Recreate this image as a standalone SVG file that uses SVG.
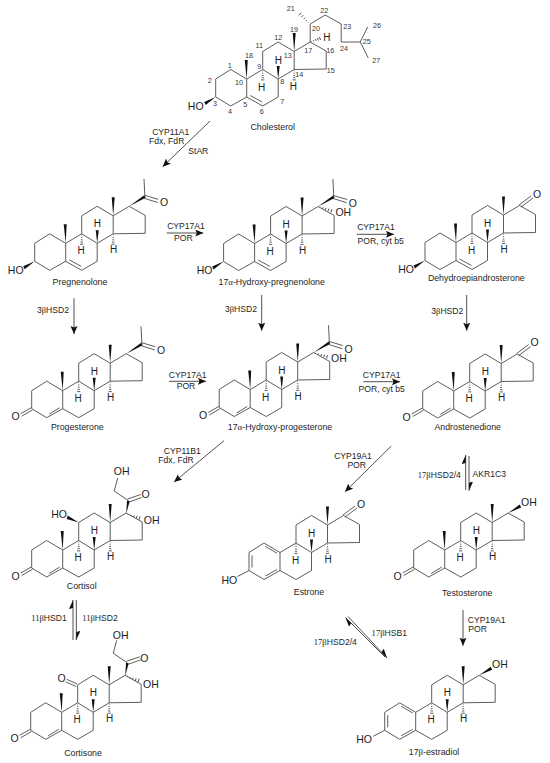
<svg xmlns="http://www.w3.org/2000/svg" width="550" height="763" viewBox="0 0 550 763">
<style>
text{font-family:"Liberation Sans",Arial,sans-serif;fill:#1c1c1c;text-anchor:middle;opacity:.99}
.b{fill:none;stroke:#333;stroke-width:.8}
.w{fill:#111;stroke:none}
.a{font-size:10.5px}
.h{font-size:10px}
.n{font-size:8.8px}
.e{font-size:8.6px}
.k{font-size:7.2px;fill:#333}
.s{font-family:"Liberation Serif","DejaVu Serif",serif}
.c{fill:none;stroke:#222;stroke-width:.8}
</style>
<defs>
<marker id="ah" markerUnits="userSpaceOnUse" markerWidth="10" markerHeight="8" refX="8" refY="3.5" orient="auto"><path d="M0 0L8 3.5L0 7L1.5 3.5Z" fill="#111"/></marker>
<marker id="hp" markerUnits="userSpaceOnUse" markerWidth="10" markerHeight="8" refX="9" refY="4" orient="auto"><path d="M0 0L9 4L1 4Z" fill="#111"/></marker>
<g id="hash"><path class="b" d="M1.5-.3V.3M3.7-.6V.6M6-.9V.9M8.2-1.2V1.2M10.4-1.6V1.6"/></g>
<g id="hashl"><path class="b" d="M2-.3V.3M5-.7V.7M8-1V1M11-1.4V1.4M14-1.8V1.8"/></g>
<g id="sk">
<path class="b" d="M0 0L-16-9.5L-31 0V18L-16 27L0 18ZM0 18L16 27L31.5 18V0L16-9.5L0 0M16-9.5V-27.5L31.5-37L47.5-27.5V-9.5L31.5 0M47.5-27.5L63.5-37L79.5-28V-10L47.5-9.5"/>
<path class="w" d="M47.5-27.5L46-46H49ZM31.5 0L30-13H33Z"/>
<use href="#hash" transform="translate(16,-9.5) rotate(90)"/>
<use href="#hash" transform="translate(47.5,-9.5) rotate(90)"/>
</g>
<path id="m18" class="w" d="M0 0L-2-19H1Z"/>
<path id="d56" class="b" d="M3.5 16.5L15.5 23"/>
<path id="d45" class="b" d="M-13.5 23.5L-3 17"/>
<path id="o3" class="b" d="M-31.5 17L-42 23M-30.3 19.3L-41 25.5"/>
<g id="ac">
<path class="w" d="M63.5-37L78.5-48L80-45.5Z"/>
<path class="b" d="M79.2-46.6L78.3-64.3M79-48L92.5-44M78.5-45L92-40.8"/>
</g>
<g id="ar"><path class="b" d="M-28 3V15M-14.5-6L-3 .7M-14.5 23.5L-3 17M-31 18L-42.5 24"/></g>
<g id="co"><path class="b" d="M63-37.5L75-46.5M65-35.5L77-44.5"/></g>
<g id="sc">
<path class="w" d="M63.5-36L64.3-49.6L67-49Z"/>
<path class="b" d="M65.6-49.5L51.5-59L55-72M65-51L78-55.5M66.5-48L79-52.5"/>
<use href="#hashl" transform="translate(63.5,-36) rotate(17)"/>
</g>
</defs>

<g id="connectors">
<path class="c" marker-end="url(#ah)" d="M210 121L162.7 166.7"/>
<path class="c" marker-end="url(#ah)" d="M166.7 233H203.3"/>
<path class="c" marker-end="url(#ah)" d="M356.7 234.3H394"/>
<path class="c" marker-end="url(#ah)" d="M169 381.3H206"/>
<path class="c" marker-end="url(#ah)" d="M363.3 381.7H400"/>
<path class="c" marker-end="url(#ah)" d="M74 298.3V334"/>
<path class="c" marker-end="url(#ah)" d="M261.7 295V330.7"/>
<path class="c" marker-end="url(#ah)" d="M466.7 295V330.7"/>
<path class="c" marker-end="url(#ah)" d="M224 440.7L174 482"/>
<path class="c" marker-end="url(#ah)" d="M391.3 446L345 491.7"/>
<path class="c" marker-end="url(#ah)" d="M463 610V645.7"/>
<path class="c" marker-end="url(#hp)" d="M465.7 490V455"/>
<path class="c" marker-end="url(#hp)" d="M469 456V490.7"/>
<path class="c" marker-end="url(#hp)" d="M73 640V600"/>
<path class="c" marker-end="url(#hp)" d="M76.3 600V640"/>
<path class="c" marker-end="url(#hp)" d="M385 657L345.5 617.5"/>
<path class="c" marker-end="url(#hp)" d="M348 616.5L387 658"/>
</g>

<g id="labels">
<text class="e" x="170.7" y="135">CYP11A1</text>
<text class="e" x="166.7" y="144.4">Fdx, FdR</text>
<text class="e" x="198.3" y="153.5">StAR</text>
<text class="e" x="186" y="228.5">CYP17A1</text>
<text class="e" x="183.3" y="241.2">POR</text>
<text class="e" x="376" y="230.2">CYP17A1</text>
<text class="e" x="380.7" y="243.5">POR, cyt b5</text>
<text class="e" x="187.7" y="377.9">CYP17A1</text>
<text class="e" x="186" y="389.2">POR</text>
<text class="e" x="381.7" y="378.2">CYP17A1</text>
<text class="e" x="381.7" y="391.5">POR, cyt b5</text>
<text class="e" x="53" y="313.2">3<tspan class="s">β</tspan>HSD2</text>
<text class="e" x="241" y="311.5">3<tspan class="s">β</tspan>HSD2</text>
<text class="e" x="447.3" y="313.5">3<tspan class="s">β</tspan>HSD2</text>
<text class="e" x="182.3" y="454">CYP11B1</text>
<text class="e" x="176" y="463.4">Fdx, FdR</text>
<text class="e" x="353" y="458.5">CYP19A1</text>
<text class="e" x="356.7" y="468.4">POR</text>
<text class="e" x="439.3" y="478.2"><tspan class="s">17β</tspan>HSD2/4</text>
<text class="e" x="489.3" y="477.2">AKR1C3</text>
<text class="e" x="49" y="620.5"><tspan class="s">11β</tspan>HSD1</text>
<text class="e" x="100" y="620.5"><tspan class="s">11β</tspan>HSD2</text>
<text class="e" x="389.3" y="635.5"><tspan class="s">17β</tspan>HSB1</text>
<text class="e" x="335.3" y="644.5"><tspan class="s">17β</tspan>HSD2/4</text>
<text class="e" x="467.7" y="622.5" style="text-anchor:start">CYP19A1</text>
<text class="e" x="468.3" y="632.2" style="text-anchor:start">POR</text>
</g>

<g id="cholesterol">
<g transform="translate(246.7,79)">
<use href="#sk"/><use href="#m18"/><use href="#d56"/>
<path class="w" d="M-31 18L-42.5 23L-41 26Z"/>
<path class="b" d="M63.5-37V-55L78.5-64M78.5-64L94.5-55V-37H113.5M113.5-37L121-52M113.5-37L121.6-21"/>
<use href="#hashl" transform="translate(63.3,-55) rotate(-135)"/>
<use href="#hash" transform="translate(63.5,-37) rotate(-20)"/>
<text class="h" x="31.6" y="-15.5">H</text><text class="h" x="15" y="12">H</text><text class="h" x="46.6" y="10.5">H</text>
<text class="h" x="80.3" y="-38">H</text>
<text class="a" x="-51" y="31">HO</text>
</g>
<g>
<text class="k" x="229.7" y="68.4">1</text><text class="k" x="209.7" y="82.7">2</text><text class="k" x="215" y="106">3</text><text class="k" x="230" y="114.4">4</text><text class="k" x="245.3" y="107.4">5</text><text class="k" x="261.7" y="113.7">6</text><text class="k" x="282.3" y="104.4">7</text><text class="k" x="282.3" y="84.4">8</text><text class="k" x="259.3" y="69.4">9</text><text class="k" x="239" y="84.7">10</text><text class="k" x="259.3" y="48">11</text><text class="k" x="278.3" y="40">12</text><text class="k" x="287.7" y="57.7">13</text><text class="k" x="299.3" y="76.7">14</text><text class="k" x="330.7" y="72.7">15</text><text class="k" x="330.3" y="52.7">16</text><text class="k" x="308.3" y="53.4">17</text><text class="k" x="249" y="58.4">18</text><text class="k" x="294" y="31.7">19</text><text class="k" x="316" y="31">20</text><text class="k" x="290.7" y="11">21</text><text class="k" x="324.3" y="12.7">22</text><text class="k" x="347.3" y="29">23</text><text class="k" x="344" y="51.4">24</text><text class="k" x="366.7" y="44.4">25</text><text class="k" x="377" y="27.7">26</text><text class="k" x="376.3" y="62.7">27</text>
</g>
<text class="n" x="272.7" y="129.8">Cholesterol</text>
</g>

<g id="pregnenolone">
<g transform="translate(65.7,243.3)">
<use href="#sk"/><use href="#m18"/><use href="#d56"/><use href="#ac"/>
<path class="w" d="M-31 18L-42.5 23L-41 26Z"/>
<text class="h" x="31.6" y="-16">H</text><text class="h" x="15.5" y="11">H</text><text class="h" x="48" y="10.2">H</text>
<text class="a" x="-50" y="30.7">HO</text><text class="a" x="98.3" y="-37">O</text>
</g>
<text class="n" x="80" y="284.8">Pregnenolone</text>
</g>

<g id="hydroxypregnenolone">
<g transform="translate(254.6,243.5)">
<use href="#sk"/><use href="#m18"/><use href="#d56"/><use href="#ac"/>
<path class="w" d="M-31 18L-42.5 23L-41 26Z"/>
<use href="#hashl" transform="translate(63.5,-37) rotate(18)"/>
<text class="h" x="31.6" y="-16">H</text><text class="h" x="15.5" y="11">H</text><text class="h" x="48" y="10.2">H</text>
<text class="a" x="-50" y="30.7">HO</text><text class="a" x="98.3" y="-37">O</text><text class="a" x="88.7" y="-27.2">OH</text>
</g>
<text class="n" x="271.7" y="285.2">17<tspan class="s">α</tspan>-Hydroxy-pregnenolone</text>
</g>

<g id="dhea">
<g transform="translate(456,242.5)">
<use href="#sk"/><use href="#m18"/><use href="#d56"/><use href="#co"/>
<path class="w" d="M-31 18L-42.5 23L-41 26Z"/>
<text class="h" x="31.6" y="-16">H</text><text class="h" x="15.5" y="11">H</text><text class="h" x="48" y="10.2">H</text>
<text class="a" x="-50" y="30.7">HO</text><text class="a" x="81" y="-45">O</text>
</g>
<text class="n" x="476.3" y="280.8">Dehydroepiandrosterone</text>
</g>

<g id="progesterone">
<g transform="translate(62.7,390.7)">
<use href="#sk"/><use href="#m18"/><use href="#d45"/><use href="#o3"/><use href="#ac"/>
<text class="h" x="31.6" y="-16">H</text><text class="h" x="15.5" y="11">H</text><text class="h" x="48" y="10.2">H</text>
<text class="a" x="-47" y="29.7">O</text><text class="a" x="98.3" y="-37">O</text>
</g>
<text class="n" x="77.3" y="429.8">Progesterone</text>
</g>

<g id="hydroxyprogesterone">
<g transform="translate(250.2,389.5)">
<use href="#sk"/><use href="#m18"/><use href="#d45"/><use href="#o3"/><use href="#ac"/>
<use href="#hashl" transform="translate(63.5,-37) rotate(18)"/>
<text class="h" x="31.6" y="-16">H</text><text class="h" x="15.5" y="11">H</text><text class="h" x="48" y="10.2">H</text>
<text class="a" x="-47" y="29.7">O</text><text class="a" x="98.3" y="-37">O</text><text class="a" x="88.7" y="-27.2">OH</text>
</g>
<text class="n" x="280" y="430.4">17<tspan class="s">α</tspan>-Hydroxy-progesterone</text>
</g>

<g id="androstenedione">
<g transform="translate(453.7,391)">
<use href="#sk"/><use href="#m18"/><use href="#d45"/><use href="#o3"/><use href="#co"/>
<text class="h" x="31.6" y="-16">H</text><text class="h" x="15.5" y="11">H</text><text class="h" x="48" y="10.2">H</text>
<text class="a" x="-47" y="29.7">O</text><text class="a" x="81" y="-45">O</text>
</g>
<text class="n" x="467.7" y="430.1">Androstenedione</text>
</g>

<g id="cortisol">
<g transform="translate(62.7,550)">
<use href="#sk"/><use href="#m18"/><use href="#d45"/><use href="#o3"/><use href="#sc"/>
<path class="w" d="M16-27.5L5-34.5L4-31Z"/>
<text class="h" x="31.6" y="-16">H</text><text class="h" x="15.5" y="11">H</text><text class="h" x="48" y="10.2">H</text>
<text class="a" x="-47" y="29.7">O</text><text class="a" x="83" y="-51.7">O</text><text class="a" x="59" y="-74.7">OH</text><text class="a" x="89" y="-25.7">OH</text><text class="a" x="-3.7" y="-32">HO</text>
</g>
<text class="n" x="81.7" y="588.8">Cortisol</text>
</g>

<g id="cortisone">
<g transform="translate(61.7,712.3)">
<use href="#sk"/><use href="#m18"/><use href="#d45"/><use href="#o3"/><use href="#sc"/>
<path class="b" d="M15.4-28.4L5-33M14.5-25.8L4-30.5"/>
<text class="h" x="31.6" y="-16">H</text><text class="h" x="15.5" y="11">H</text><text class="h" x="48" y="10.2">H</text>
<text class="a" x="-47" y="29.7">O</text><text class="a" x="82.6" y="-50">O</text><text class="a" x="59" y="-73.6">OH</text><text class="a" x="89.3" y="-24.3">OH</text><text class="a" x="0" y="-30.6">O</text>
</g>
<text class="n" x="83" y="756.4">Cortisone</text>
</g>

<g id="estrone">
<g transform="translate(280,552.5)">
<use href="#sk"/><use href="#ar"/><use href="#co"/>
<text class="h" x="31.6" y="-16">H</text><text class="h" x="15.5" y="11">H</text><text class="h" x="48" y="10.2">H</text>
<text class="a" x="-50.7" y="31.5">HO</text><text class="a" x="81" y="-44.5">O</text>
</g>
<text class="n" x="309" y="595.4">Estrone</text>
</g>

<g id="testosterone">
<g transform="translate(444.7,550)">
<use href="#sk"/><use href="#m18"/><use href="#d45"/><use href="#o3"/>
<path class="w" d="M63.5-37L75-45.5L76.5-42.5Z"/>
<text class="h" x="31.6" y="-16">H</text><text class="h" x="15.5" y="11">H</text><text class="h" x="48" y="10.2">H</text>
<text class="a" x="-47" y="29.7">O</text><text class="a" x="84.3" y="-43.7">OH</text>
</g>
<text class="n" x="467.3" y="596.4">Testosterone</text>
</g>

<g id="estradiol">
<g transform="translate(415.7,712.3)">
<use href="#sk"/><use href="#ar"/>
<path class="w" d="M63.5-37L75-45.5L76.5-42.5Z"/>
<text class="h" x="31.6" y="-16">H</text><text class="h" x="15.5" y="11">H</text><text class="h" x="48" y="10.2">H</text>
<text class="a" x="-51.7" y="31">HO</text><text class="a" x="84.3" y="-44">OH</text>
</g>
<text class="n" x="434" y="755.4">17<tspan class="s">β</tspan>-estradiol</text>
</g>
</svg>
